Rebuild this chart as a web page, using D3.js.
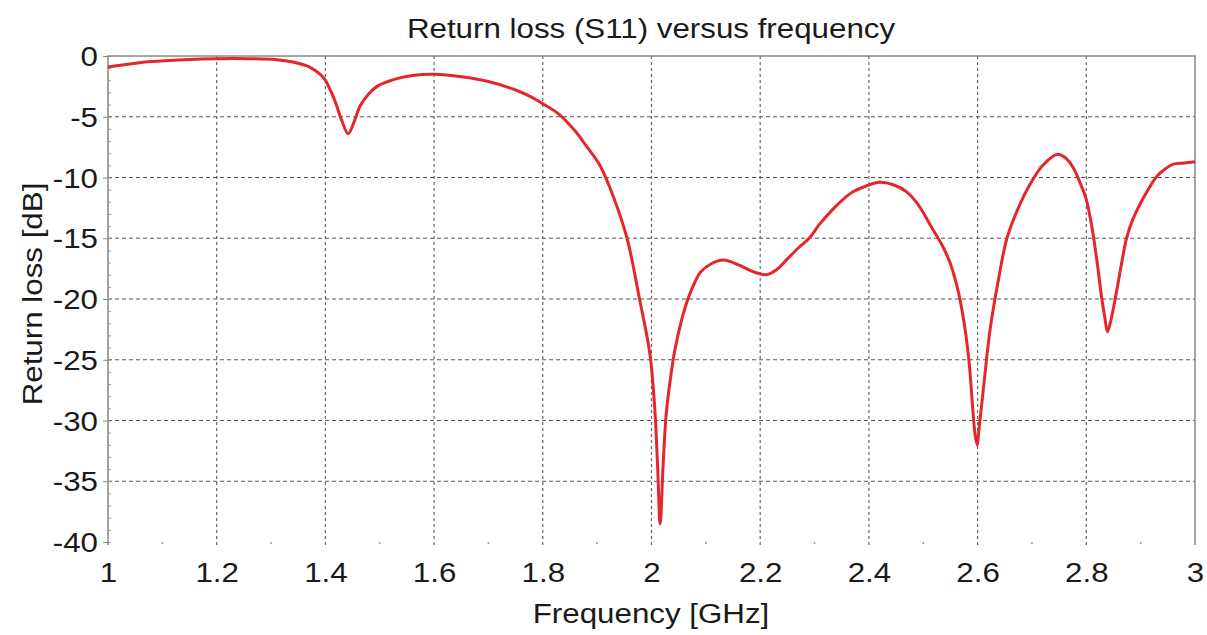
<!DOCTYPE html>
<html>
<head>
<meta charset="utf-8">
<script src="https://cdn.jsdelivr.net/npm/d3@7"></script>
<style>
  body { margin: 0; background: #fff; }
  text { font-family: "Liberation Sans", Arial, sans-serif; fill: #1a1a1a; }
</style>
</head>
<body>
<div id="chart"></div>
<script>
// frequency points [GHz]
var freq = [1.00, 1.04, 1.08, 1.14, 1.20, 1.26, 1.31, 1.34, 1.37, 1.39, 1.40, 1.41, 1.42, 1.43,
  1.442, 1.453, 1.464, 1.48, 1.495, 1.515, 1.537, 1.56, 1.60, 1.65, 1.70, 1.75, 1.78, 1.81,
  1.83, 1.86, 1.88, 1.905, 1.93, 1.955, 1.978, 1.997, 2.006, 2.011, 2.016, 2.021, 2.027,
  2.035, 2.043, 2.055, 2.067, 2.08, 2.09, 2.11, 2.132, 2.15, 2.17, 2.19, 2.212, 2.23, 2.25,
  2.27, 2.29, 2.31, 2.334, 2.35, 2.37, 2.395, 2.42, 2.445, 2.47, 2.49, 2.518, 2.535, 2.55,
  2.565, 2.577, 2.585, 2.591, 2.595, 2.599, 2.603, 2.608, 2.614, 2.623, 2.638, 2.654, 2.675,
  2.696, 2.72, 2.746, 2.762, 2.776, 2.79, 2.80, 2.81, 2.82, 2.828, 2.834, 2.839, 2.845,
  2.851, 2.858, 2.866, 2.874, 2.886, 2.9, 2.915, 2.93, 2.945, 2.96, 2.98, 3.0];

// return loss S11 [dB]
var s11 = [-0.9, -0.65, -0.45, -0.3, -0.22, -0.22, -0.3, -0.5, -0.9, -1.5, -2.0, -2.9, -4.0, -5.3,
  -6.4, -5.4, -4.1, -3.1, -2.5, -2.1, -1.8, -1.6, -1.5, -1.7, -2.1, -2.8, -3.4, -4.2,
  -4.8, -6.2, -7.4, -9.0, -11.6, -15.0, -20.0, -24.5, -29.0, -33.5, -38.5, -34.0, -29.5,
  -26.5, -24.2, -21.8, -20.0, -18.6, -17.8, -17.1, -16.8, -17.0, -17.4, -17.8, -18.0, -17.6, -16.7,
  -15.8, -15.0, -13.8, -12.6, -11.9, -11.2, -10.7, -10.4, -10.6, -11.2, -12.2, -14.3, -15.6, -17.1,
  -19.5, -22.5, -25.5, -29.0, -31.0, -32.0, -30.5, -28.5, -26.0, -22.5, -18.5, -15.0, -12.5,
  -10.6, -9.0, -8.1, -8.4, -9.2, -10.6, -11.8, -14.0, -17.0, -19.8, -21.5, -22.7, -21.8,
  -20.5, -18.8, -16.8, -15.0, -13.4, -12.1, -10.9, -9.9, -9.3, -8.9, -8.8, -8.7];

var xTicks = [1, 1.2, 1.4, 1.6, 1.8, 2, 2.2, 2.4, 2.6, 2.8, 3];
var xTickLabels = ["1", "1.2", "1.4", "1.6", "1.8", "2", "2.2", "2.4", "2.6", "2.8", "3"];
var xMinor = [1.1, 1.3, 1.5, 1.7, 1.9, 2.1, 2.3, 2.5, 2.7, 2.9];
var yTicks = [0, -5, -10, -15, -20, -25, -30, -35, -40];
var yTickLabels = ["0", "-5", "-10", "-15", "-20", "-25", "-30", "-35", "-40"];

var W = 1207, H = 635;
var pLeft = 108, pRight = 1195, pTop = 56, pBottom = 542;
var fs = 27, stretch = 1.16;   // reference text is a bit wider than Liberation Sans

var svg = d3.select("#chart").append("svg")
    .attr("width", W)
    .attr("height", H);

var x = d3.scaleLinear().domain([1, 3]).range([pLeft, pRight]);
var y = d3.scaleLinear().domain([-40, 0]).range([pBottom, pTop]);

// grid
var grid = svg.append("g");
grid.selectAll("line.v")
    .data(xTicks.slice(1, -1))
  .enter().append("line")
    .attr("x1", function(d) { return x(d); })
    .attr("x2", function(d) { return x(d); })
    .attr("y1", pTop)
    .attr("y2", pBottom + 3)
    .attr("stroke", "#666")
    .attr("stroke-width", 1.2)
    .attr("stroke-dasharray", "3,3");

grid.selectAll("line.h")
    .data(yTicks.slice(1, -1))
  .enter().append("line")
    .attr("x1", pLeft)
    .attr("x2", pRight)
    .attr("y1", function(d) { return y(d); })
    .attr("y2", function(d) { return y(d); })
    .attr("stroke", "#555")
    .attr("stroke-width", 1.2)
    .attr("stroke-dasharray", "4,3");

// minor dots along the bottom
svg.append("g").selectAll("circle")
    .data(xMinor)
  .enter().append("circle")
    .attr("cx", function(d) { return x(d); })
    .attr("cy", pBottom + 1)
    .attr("r", 1)
    .attr("fill", "#999");

// minor ticks on the left axis
svg.append("g")
    .attr("transform", "translate(" + pLeft + ",0)")
    .call(d3.axisRight(y).ticks(40).tickSize(3).tickFormat(""))
    .call(function(g) {
      g.select(".domain").remove();
      g.selectAll("line").attr("stroke", "#999");
    });

// frame
svg.append("path")
    .attr("d", "M" + pLeft + "," + (pBottom + 3) + "V" + pTop + "H" + pRight + "V" + (pBottom + 3))
    .attr("fill", "none")
    .attr("stroke", "#888")
    .attr("stroke-width", 1.5);

// y axis
svg.append("g")
    .attr("transform", "translate(" + pLeft + ",0)")
    .call(d3.axisLeft(y).tickValues(yTicks).tickSize(5).tickPadding(5)
      .tickFormat(function(d, i) { return yTickLabels[i]; }))
    .call(function(g) {
      g.select(".domain").remove();
      g.selectAll("line").attr("stroke", "#888");
      g.selectAll("text")
          .attr("font-size", fs)
          .attr("x", -10 / stretch)
          .attr("dy", "0.36em")
          .attr("transform", "scale(" + stretch + ",1)")
          .style("font-family", "'Liberation Sans', Arial, sans-serif")
          .attr("fill", "#1a1a1a");
    });

// x axis
svg.append("g")
    .attr("transform", "translate(0," + pBottom + ")")
    .call(d3.axisBottom(x).tickValues(xTicks).tickSize(0).tickPadding(21)
      .tickFormat(function(d, i) { return xTickLabels[i]; }))
    .call(function(g) {
      g.select(".domain").remove();
      g.selectAll("text")
          .attr("font-size", fs)
          .attr("transform", "scale(" + stretch + ",1)")
          .style("font-family", "'Liberation Sans', Arial, sans-serif")
          .attr("fill", "#1a1a1a");
    });

// curve
var line = d3.line()
    .x(function(d, i) { return x(freq[i]); })
    .y(function(d) { return y(d); })
    .curve(d3.curveCatmullRom.alpha(0.5));

svg.append("path")
    .datum(s11)
    .attr("d", line)
    .attr("fill", "none")
    .attr("stroke", "#e5262b")
    .attr("stroke-width", 3)
    .attr("stroke-linejoin", "round");

// titles
svg.append("text")
    .attr("transform", "translate(651,38) scale(" + stretch + ",1)")
    .attr("text-anchor", "middle")
    .attr("font-size", fs)
    .text("Return loss (S11) versus frequency");

svg.append("text")
    .attr("transform", "translate(651,623) scale(" + stretch + ",1)")
    .attr("text-anchor", "middle")
    .attr("font-size", fs)
    .text("Frequency [GHz]");

svg.append("text")
    .attr("transform", "translate(42,294) rotate(-90) scale(" + stretch + ",1)")
    .attr("text-anchor", "middle")
    .attr("font-size", fs)
    .text("Return loss [dB]");
</script>
</body>
</html>
